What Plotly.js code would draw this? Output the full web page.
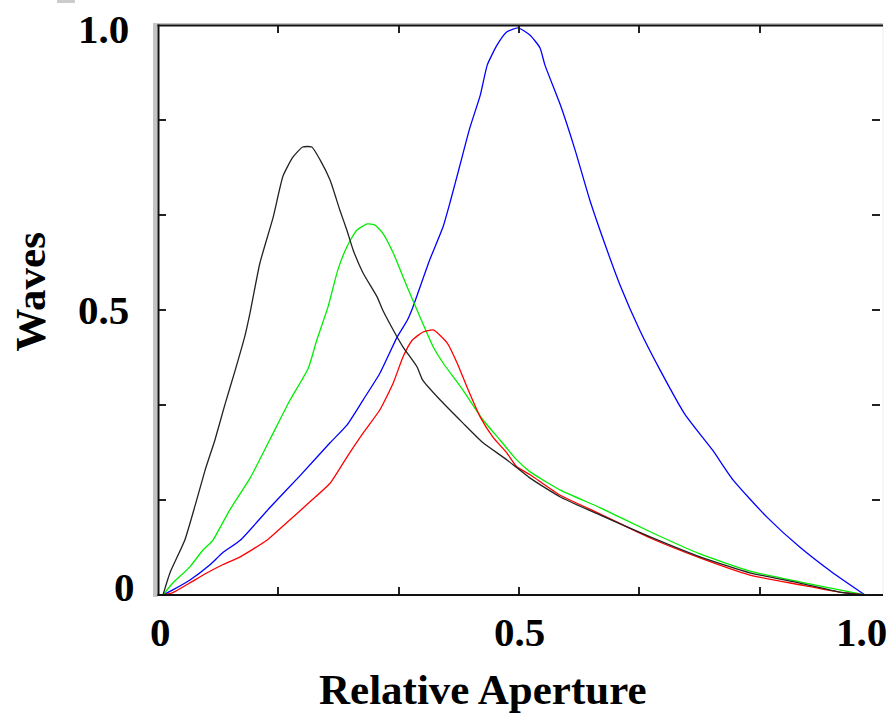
<!DOCTYPE html>
<html>
<head>
<meta charset="utf-8">
<script src="https://cdn.plot.ly/plotly-3.0.1.min.js"></script>
<style>html,body{margin:0;padding:0;background:#fff;}#chart{width:894px;height:716px;}</style>
</head>
<body>
<div id="chart"></div>
<script>
// Relative aperture / waves values
var blackX = [0,0.010,0.031,0.046,0.060,0.074,0.088,0.103,0.117,0.124,0.138,0.157,0.171,0.185,0.199,0.212,0.224,0.238,0.252,0.262,0.271,0.285,0.305,0.313,0.328,0.342,0.362,0.370,0.395,0.427,0.456,0.490,0.523,0.566,0.623,0.694,0.765,0.836,0.907,0.964,1.0];
var blackY = [0,0.039,0.096,0.158,0.219,0.272,0.333,0.395,0.456,0.495,0.582,0.663,0.735,0.768,0.786,0.786,0.763,0.728,0.675,0.640,0.605,0.565,0.523,0.500,0.465,0.435,0.400,0.377,0.342,0.302,0.267,0.237,0.205,0.172,0.140,0.102,0.067,0.039,0.021,0.005,0];

var greenX = [0,0.014,0.038,0.057,0.071,0.095,0.124,0.152,0.181,0.207,0.219,0.235,0.249,0.262,0.276,0.291,0.302,0.313,0.328,0.348,0.366,0.385,0.399,0.427,0.456,0.480,0.504,0.523,0.566,0.623,0.694,0.765,0.836,0.907,0.964,1.0];
var greenY = [0,0.021,0.049,0.079,0.096,0.149,0.205,0.272,0.342,0.398,0.447,0.505,0.570,0.611,0.640,0.651,0.649,0.635,0.600,0.540,0.488,0.435,0.407,0.360,0.307,0.272,0.237,0.216,0.184,0.153,0.111,0.072,0.042,0.023,0.009,0];

var blueX = [0,0.014,0.038,0.067,0.085,0.110,0.152,0.195,0.238,0.262,0.285,0.309,0.333,0.348,0.356,0.380,0.399,0.409,0.423,0.437,0.452,0.462,0.476,0.490,0.506,0.523,0.537,0.544,0.566,0.587,0.608,0.630,0.651,0.679,0.708,0.744,0.783,0.812,0.860,0.907,0.954,1.0];
var blueY = [0,0.009,0.026,0.053,0.074,0.096,0.153,0.209,0.267,0.298,0.342,0.389,0.451,0.482,0.505,0.588,0.646,0.689,0.754,0.819,0.877,0.930,0.965,0.988,0.995,0.982,0.960,0.930,0.860,0.781,0.693,0.614,0.544,0.465,0.395,0.316,0.254,0.202,0.137,0.084,0.039,0];

var redX = [0,0.014,0.038,0.063,0.085,0.110,0.148,0.181,0.209,0.238,0.262,0.285,0.309,0.328,0.342,0.355,0.370,0.385,0.405,0.419,0.433,0.452,0.470,0.490,0.504,0.523,0.566,0.623,0.694,0.765,0.836,0.907,0.964,1.0];
var redY = [0,0.004,0.021,0.039,0.053,0.067,0.096,0.132,0.163,0.196,0.242,0.284,0.325,0.372,0.418,0.447,0.461,0.465,0.442,0.407,0.365,0.312,0.277,0.249,0.225,0.211,0.175,0.142,0.100,0.065,0.035,0.018,0.005,0];

var xTickLabels = ["0", "0.5", "1.0"];
var xTickLabelPos = [-0.004, 0.508, 0.995];
var yTickLabels = ["1.0", "0.5", "0"];
var yTickLabelPos = [0.993, 0.5, 0.014];

var xRange = [-0.0071, 1.0214];
var xTickVals = [];
for (var k = 1; k <= 5; k++) xTickVals.push(xRange[0] + k * (xRange[1] - xRange[0]) / 6);
var yTickVals = [1/6, 2/6, 3/6, 4/6, 5/6];

function line(x, y, c) {
  return {x: x, y: y, type: 'scatter', mode: 'lines', line: {color: c, width: 1.3, shape: 'spline', smoothing: 0.5}, hoverinfo: 'skip'};
}
var data = [
  line(blueX, blueY, '#0000ff'),
  line(greenX, greenY, '#00ee00'),
  line(redX, redY, '#ff0000'),
  line(blackX, blackY, '#222222')
];

var F = {family: 'Liberation Serif, Times New Roman, serif', size: 41, color: '#000', weight: 'bold'};
var FT = {family: 'Liberation Serif, Times New Roman, serif', size: 43, color: '#000', weight: 'bold'};
var ann = [];
for (var i = 0; i < xTickLabels.length; i++) {
  ann.push({text: '<b>' + xTickLabels[i] + '</b>', x: xTickLabelPos[i], xref: 'x', y: -0.065, yref: 'paper', xanchor: 'center', yanchor: 'middle', showarrow: false, font: F});
}
for (var j = 0; j < yTickLabels.length; j++) {
  ann.push({text: '<b>' + yTickLabels[j] + '</b>', x: (j === 2 ? -0.029 : -0.038), xref: 'paper', y: yTickLabelPos[j], yref: 'paper', xanchor: 'right', yanchor: 'middle', showarrow: false, font: F});
}
ann.push({text: '<b>Relative Aperture</b>', x: 0.45, xref: 'paper', y: -0.166, yref: 'paper', xanchor: 'center', yanchor: 'middle', showarrow: false, font: FT});
ann.push({text: '<b>Waves</b>', x: -0.177, xref: 'paper', y: 0.531, yref: 'paper', xanchor: 'center', yanchor: 'middle', textangle: -90, showarrow: false, font: FT});

var px = function (p) { return (p - 158) / 722; };
var py = function (p) { return (595 - p) / 570; };
var shapes = [
  {type: 'rect', xref: 'paper', yref: 'paper', x0: px(153), x1: px(157.5), y0: py(597), y1: py(23), fillcolor: '#c4c4c4', line: {width: 0}},
  {type: 'rect', xref: 'paper', yref: 'paper', x0: px(153), x1: px(883), y0: py(24.5), y1: py(23), fillcolor: '#c4c4c4', line: {width: 0}},
  {type: 'line', xref: 'paper', yref: 'paper', x0: px(883), x1: px(883), y0: py(595), y1: py(23), line: {color: '#eeeeee', width: 1}},
  {type: 'line', xref: 'paper', yref: 'paper', x0: px(158.5), x1: px(158.5), y0: py(596), y1: py(24.5), line: {color: '#111', width: 2}},
  {type: 'line', xref: 'paper', yref: 'paper', x0: px(157.5), x1: px(883), y0: py(25.5), y1: py(25.5), line: {color: '#111', width: 2}},
  {type: 'line', xref: 'paper', yref: 'paper', x0: px(157.5), x1: px(883), y0: py(595), y1: py(595), line: {color: '#111', width: 2}},
  {type: 'rect', xref: 'paper', yref: 'paper', x0: px(57), x1: px(75), y0: py(3), y1: py(0), fillcolor: '#cccccc', line: {width: 0}}
];

var layout = {
  width: 894, height: 716,
  margin: {l: 158, r: 14, t: 25, b: 121, pad: 0},
  paper_bgcolor: '#ffffff', plot_bgcolor: '#ffffff',
  showlegend: false,
  xaxis: {range: xRange, tickmode: 'array', tickvals: xTickVals, showticklabels: false, ticks: 'inside', ticklen: 8, tickwidth: 2, tickcolor: '#222', mirror: 'ticks', showline: false, showgrid: false, zeroline: false, fixedrange: true},
  yaxis: {range: [0, 1], tickmode: 'array', tickvals: yTickVals, showticklabels: false, ticks: 'inside', ticklen: 8, tickwidth: 2, tickcolor: '#222', mirror: 'ticks', showline: false, showgrid: false, zeroline: false, fixedrange: true},
  annotations: ann,
  shapes: shapes
};
Plotly.newPlot('chart', data, layout, {staticPlot: true, displayModeBar: false});
</script>
</body>
</html>
